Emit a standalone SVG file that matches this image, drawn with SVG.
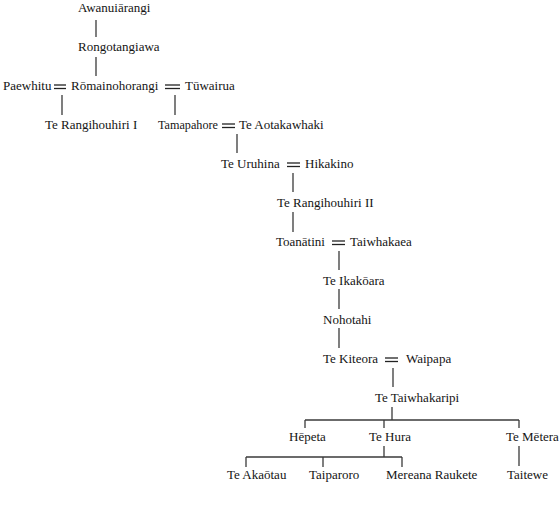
<svg xmlns="http://www.w3.org/2000/svg" width="560" height="523" viewBox="0 0 560 523">
<style>
text{font-family:"Liberation Serif","Times New Roman",serif;font-size:13px;fill:#141414}
.c line{stroke:#3a3a3a;stroke-width:1.3;fill:none}
.m line{stroke:#222;stroke-width:1.3}
</style>
<rect width="560" height="523" fill="#fff"/>
<g id="connectors" class="c">
<line x1="96" y1="20" x2="96" y2="37"/>
<line x1="96" y1="57" x2="96" y2="76"/>
<line x1="62" y1="95" x2="62" y2="115"/>
<line x1="175" y1="95" x2="175" y2="115"/>
<line x1="237" y1="134" x2="237" y2="153"/>
<line x1="293" y1="173" x2="293" y2="192"/>
<line x1="293" y1="212" x2="293" y2="232"/>
<line x1="339" y1="251" x2="339" y2="270"/>
<line x1="339" y1="289" x2="339" y2="309"/>
<line x1="339" y1="328" x2="339" y2="348"/>
<line x1="393" y1="368" x2="393" y2="387"/>
<line x1="392" y1="407" x2="392" y2="420"/>
<line x1="305" y1="420" x2="519" y2="420"/>
<line x1="305" y1="420" x2="305" y2="428"/>
<line x1="384" y1="420" x2="384" y2="428"/>
<line x1="519" y1="420" x2="519" y2="428"/>
<line x1="384" y1="446" x2="384" y2="457"/>
<line x1="246" y1="457" x2="402" y2="457"/>
<line x1="246" y1="457" x2="246" y2="467"/>
<line x1="323" y1="457" x2="323" y2="467"/>
<line x1="402" y1="457" x2="402" y2="467"/>
<line x1="519" y1="446" x2="519" y2="466"/>
</g>
<g id="marriages" class="m">
<line x1="54" y1="85" x2="66" y2="85"/><line x1="54" y1="88.5" x2="66" y2="88.5"/>
<line x1="165" y1="85" x2="180" y2="85"/><line x1="165" y1="88.5" x2="180" y2="88.5"/>
<line x1="222" y1="124" x2="235" y2="124"/><line x1="222" y1="127.5" x2="235" y2="127.5"/>
<line x1="287" y1="163" x2="300" y2="163"/><line x1="287" y1="166.5" x2="300" y2="166.5"/>
<line x1="332" y1="241" x2="345" y2="241"/><line x1="332" y1="244.5" x2="345" y2="244.5"/>
<line x1="385" y1="358" x2="398" y2="358"/><line x1="385" y1="361.5" x2="398" y2="361.5"/>
</g>
<g id="n-awanuiarangi"><text x="78" y="12">Awanuiārangi</text></g>
<g id="n-rongotangiawa"><text x="78" y="51">Rongotangiawa</text></g>
<g id="n-paewhitu"><text x="3" y="90">Paewhitu</text></g>
<g id="n-romainohorangi"><text x="71" y="90">Rōmainohorangi</text></g>
<g id="n-tuwairua"><text x="185" y="90">Tūwairua</text></g>
<g id="n-terangihouhiri1"><text x="45" y="129">Te Rangihouhiri I</text></g>
<g id="n-tamapahore"><text x="158" y="129" textLength="60" lengthAdjust="spacingAndGlyphs">Tamapahore</text></g>
<g id="n-teaotakawhaki"><text x="239" y="129">Te Aotakawhaki</text></g>
<g id="n-teuruhina"><text x="221" y="168">Te Uruhina</text></g>
<g id="n-hikakino"><text x="305" y="168">Hikakino</text></g>
<g id="n-terangihouhiri2"><text x="277" y="207">Te Rangihouhiri II</text></g>
<g id="n-toanatini"><text x="276" y="246">Toanātini</text></g>
<g id="n-taiwhakaea"><text x="350" y="246">Taiwhakaea</text></g>
<g id="n-teikakoara"><text x="323" y="285">Te Ikakōara</text></g>
<g id="n-nohotahi"><text x="323" y="324">Nohotahi</text></g>
<g id="n-tekiteora"><text x="323" y="363">Te Kiteora</text></g>
<g id="n-waipapa"><text x="406" y="363">Waipapa</text></g>
<g id="n-tetaiwhakaripi"><text x="375" y="402">Te Taiwhakaripi</text></g>
<g id="n-hepeta"><text x="289" y="441">Hēpeta</text></g>
<g id="n-tehura"><text x="369" y="441">Te Hura</text></g>
<g id="n-temetera"><text x="506" y="441">Te Mētera</text></g>
<g id="n-teakaotau"><text x="227" y="479">Te Akaōtau</text></g>
<g id="n-taiparoro"><text x="309" y="479">Taiparoro</text></g>
<g id="n-mereanaraukete"><text x="386" y="479">Mereana Raukete</text></g>
<g id="n-taitewe"><text x="507" y="479">Taitewe</text></g>
</svg>
